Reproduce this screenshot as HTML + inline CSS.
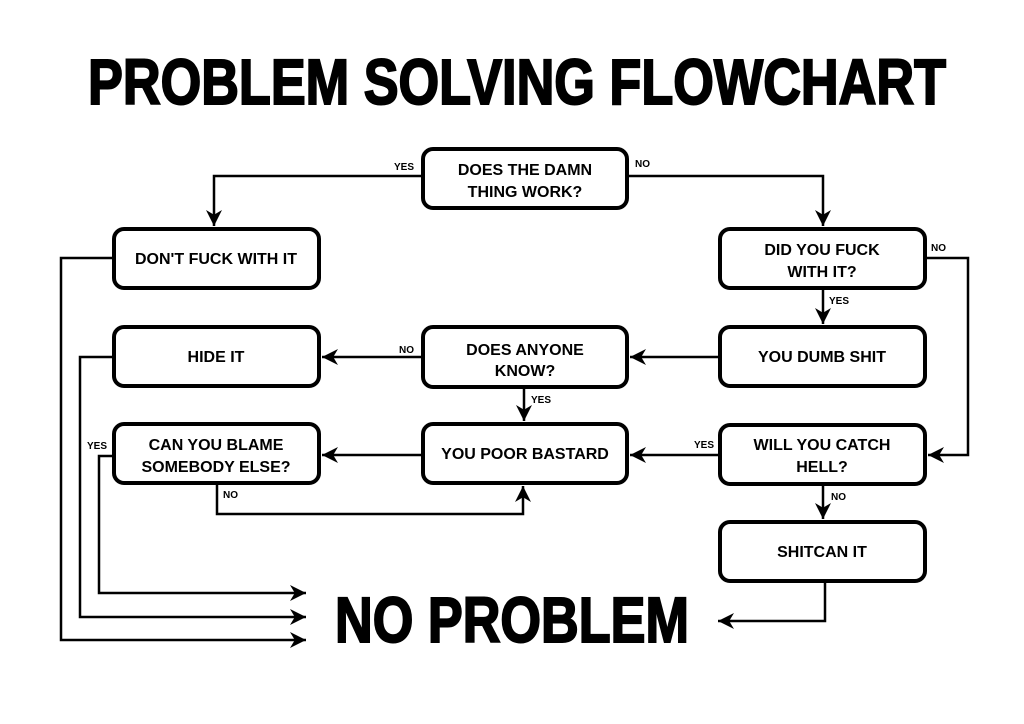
<!DOCTYPE html>
<html><head><style>html,body{margin:0;padding:0;background:#fff}svg{display:block}</style></head>
<body>
<svg width="1024" height="724" viewBox="0 0 1024 724" xmlns="http://www.w3.org/2000/svg" font-family="Liberation Sans, Arial, sans-serif" font-weight="bold">
<defs><marker id="a" viewBox="0 0 10 10" refX="10" refY="5" markerWidth="16" markerHeight="16" markerUnits="userSpaceOnUse" orient="auto"><path d="M0,0 L10,5 L0,10 L3,5 z" fill="#000"/></marker></defs>
<text x="517" y="104" text-anchor="middle" font-size="64" textLength="858" lengthAdjust="spacingAndGlyphs" stroke="#000" stroke-width="2">PROBLEM SOLVING FLOWCHART</text>
<text x="512" y="642" text-anchor="middle" font-size="64" textLength="354" lengthAdjust="spacingAndGlyphs" stroke="#000" stroke-width="2">NO PROBLEM</text>
<g fill="#fff" stroke="#000" stroke-width="4">
<rect x="423" y="149" width="204" height="59" rx="10"/>
<rect x="114" y="229" width="205" height="59" rx="10"/>
<rect x="720" y="229" width="205" height="59" rx="10"/>
<rect x="114" y="327" width="205" height="59" rx="10"/>
<rect x="423" y="327" width="204" height="60" rx="10"/>
<rect x="720" y="327" width="205" height="59" rx="10"/>
<rect x="114" y="424" width="205" height="59" rx="10"/>
<rect x="423" y="424" width="204" height="59" rx="10"/>
<rect x="720" y="425" width="205" height="59" rx="10"/>
<rect x="720" y="522" width="205" height="59" rx="10"/>
</g>
<g fill="none" stroke="#000" stroke-width="2.5" marker-end="url(#a)">
<path d="M422,176 H214 V226"/>
<path d="M628,176 H823 V226"/>
<path d="M926,258 H968 V455 H928"/>
<path d="M823,290 V324"/>
<path d="M719,357 H630"/>
<path d="M422,357 H322"/>
<path d="M524,389 V421"/>
<path d="M719,455 H630"/>
<path d="M422,455 H322"/>
<path d="M217,485 V514 H523 V486"/>
<path d="M823,486 V519"/>
<path d="M113,258 H61 V640 H306"/>
<path d="M113,357 H80 V617 H306"/>
<path d="M113,456 H99 V593 H306"/>
<path d="M825,582 V621 H718"/>
</g>
<g font-size="16" text-anchor="middle" fill="#000">
<text x="525" y="175">DOES THE DAMN</text><text x="525" y="197">THING WORK?</text>
<text x="216" y="264">DON'T FUCK WITH IT</text>
<text x="822" y="255">DID YOU FUCK</text><text x="822" y="277">WITH IT?</text>
<text x="216" y="362">HIDE IT</text>
<text x="525" y="355">DOES ANYONE</text><text x="525" y="376">KNOW?</text>
<text x="822" y="362">YOU DUMB SHIT</text>
<text x="216" y="450">CAN YOU BLAME</text><text x="216" y="472">SOMEBODY ELSE?</text>
<text x="525" y="459">YOU POOR BASTARD</text>
<text x="822" y="450">WILL YOU CATCH</text><text x="822" y="472">HELL?</text>
<text x="822" y="557">SHITCAN IT</text>
</g>
<g font-size="10" fill="#000">
<text x="394" y="170">YES</text><text x="635" y="167">NO</text>
<text x="931" y="251">NO</text><text x="829" y="304">YES</text>
<text x="399" y="353">NO</text><text x="531" y="403">YES</text>
<text x="694" y="448">YES</text><text x="87" y="449">YES</text>
<text x="223" y="498">NO</text><text x="831" y="500">NO</text>
</g>
</svg>
</body></html>
